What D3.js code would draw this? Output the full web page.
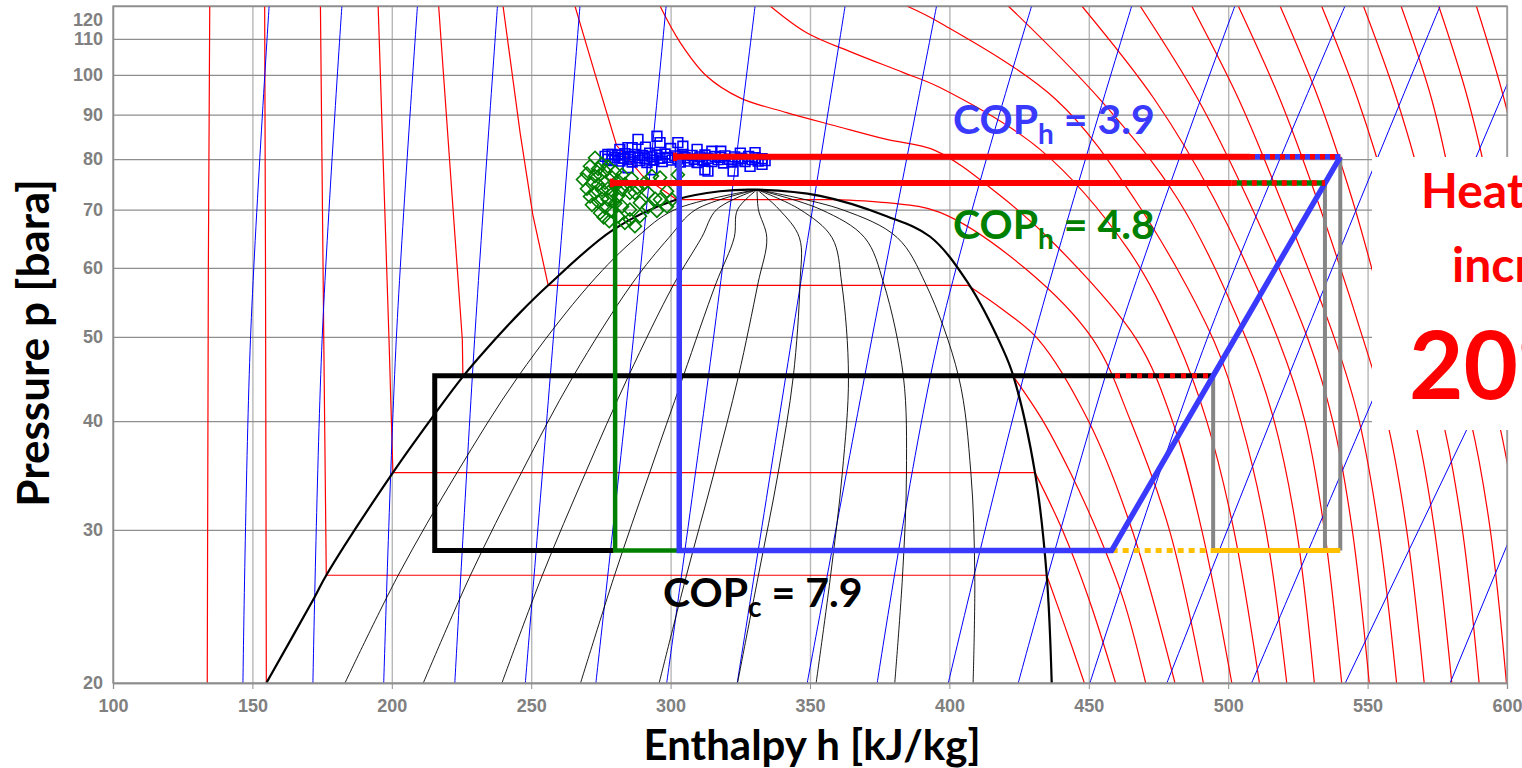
<!DOCTYPE html>
<html>
<head>
<meta charset="utf-8">
<script src="https://cdn.jsdelivr.net/npm/d3@7"></script>
<style>
    body { margin:0; background:#fff; }
    svg { display:block; font-family: Lato, "Open Sans", sans-serif; }
</style>
</head>
<body>
<div class="canvas"></div>
<script>
// AXIS TICKS
const pTicks = [20, 30, 40, 50, 60, 70, 80, 90, 100, 110, 120];
const hTicks = [100, 150, 200, 250, 300, 350, 400, 450, 500, 550, 600];

// SATURATION DOME [h, p]
const dome = [[155,20],[172.3,25.1],[176.5,26.6],[200.4,34.9],[214.8,40.5],[225.5,45],[236.9,49.6],[246,53.3],[256.1,57.3],[279.5,66.4],[302.2,71.9],[317.7,73.5],[331,73.8],[353.6,72.6],[377.5,68.8],[393,65.2],[406.6,57.7],[419.3,48.3],[423,45],[430.7,34.9],[434.9,26.6],[436.7,20]];

// VAPOUR QUALITY LINES 0.1 .. 0.9
const qualityLines = [
    [[183.2,20],[202.3,26.6],[223.4,34.9],[245.3,45],[271.1,57.5],[287.7,65],[301.5,70],[331,73.8]],
    [[211.3,20],[228.2,26.6],[246.5,34.9],[265,45],[286.1,57.5],[299.4,65],[309,70],[331,73.8]],
    [[239.5,20],[254,26.6],[269.5,34.9],[284.8,45],[301.2,57.5],[311.1,65],[316.5,70],[331,73.8]],
    [[267.7,20],[279.9,26.6],[292.5,34.9],[304.5,45],[316.2,57.5],[322.8,65],[324,70],[331,73.8]],
    [[295.9,20],[305.7,26.6],[315.6,34.9],[324.3,45],[331.3,57.5],[334.5,65],[331.5,70],[331,73.8]],
    [[324,20],[331.5,26.6],[338.6,34.9],[344,45],[346.4,57.5],[346.2,65],[339,70],[331,73.8]],
    [[352.2,20],[357.4,26.6],[361.6,34.9],[363.8,45],[361.4,57.5],[357.9,65],[346.5,70],[331,73.8]],
    [[380.4,20],[383.2,26.6],[384.6,34.9],[383.5,45],[376.5,57.5],[369.6,65],[354,70],[331,73.8]],
    [[408.5,20],[409.1,26.6],[407.7,34.9],[403.3,45],[391.5,57.5],[381.3,65],[361.5,70],[331,73.8]]
];

// ISOTHERMS (deg C): liquid part + two-phase step, then vapour / supercritical part
const isoTemps = [-30,-20,-10,0,10,20,30,40,50,60,70,80,90,100,110,120,130,140,150,160,170];
const isoLiquid = [
    [[134.7,120],[134.2,60],[133.8,20]],
    [[154.4,120],[154.7,60],[155,20]],
    [[174.4,120],[175.6,49.6],[176.5,26.6]],
    [[195.1,120],[199,49.6],[200.4,34.9]],
    [[216.8,120],[225.3,49.6],[225.5,45]],
    [[239.9,120],[246,85.9],[250.6,69],[256.1,57.3]],
    [[265.7,120],[273,100],[280.6,83],[290,76.5],[302.2,71.9]],
    [],[],[],[],[],[],[],[],[],[],[],[],[],[]
];
const isoVapour = [
    [],
    [],
    [[434.9,26.6],[441.5,23.2],[448.4,20]],
    [[430.7,34.9],[440.5,30],[450,25],[459.6,20]],
    [[423,45],[433.6,40],[443.2,35],[452.8,30],[462.3,25],[470.4,20]],
    [[406.6,57.3],[419.2,53.7],[432,49.6],[449.9,40],[465.5,30],[480.9,20]],
    [[358,71.9],[377.5,71.3],[396.6,69.5],[427.2,59.9],[451.6,49.6],[465,40],[478.9,30],[491.1,20]],
    [[296.2,120],[303.4,109],[312.9,99.7],[324.9,94.1],[341.6,90.5],[359.6,87.3],[377.5,84.3],[394.8,81.9],[417.4,73],[438.6,63.5],[467.2,49.6],[480,40],[490.5,30],[501.3,20]],
    [[335.7,120],[348.8,111.8],[365.5,106],[383.5,100.6],[396.6,96.7],[432.5,82.1],[464.1,63],[481.5,49.6],[492.3,40],[502,30],[511.2,20]],
    [[384.7,120],[396.6,114.8],[438.2,93.7],[466.5,71.9],[494.7,49.6],[504.5,40],[513.5,30],[521,20]],
    [[421.1,120],[454,93.7],[482,71.9],[506.6,49.6],[516.5,40],[524.5,30],[530.9,20]],
    [[447.5,120],[473.6,93.7],[495.1,71.9],[518,49.6],[527.5,40],[534.5,30],[540.7,20]],
    [[468.4,120],[489.2,93.7],[507.1,71.9],[528.7,49.6],[537.5,40],[544.5,30],[550.6,20]],
    [[486.9,120],[503.8,93.7],[518.8,71.9],[538.3,49.6],[547,40],[554,30],[560.4,20]],
    [[503.6,120],[518.6,93.7],[531.9,71.9],[548.5,49.6],[557,40],[564,30],[570.3,20]],
    [[518.6,120],[532.5,93.7],[544.5,71.9],[558.5,49.6],[567,40],[574,30],[580.2,20]],
    [[533.5,120],[546.5,93.7],[557.5,71.9],[568.5,49.6],[577,40],[584,30],[590,20]],
    [[548.5,120],[560.5,93.7],[570.5,71.9],[578.5,49.6],[587,40],[594,30],[599.8,20]],
    [[562,120],[573,93.7],[581,71.9],[589,49.6],[597,40],[604,30],[609.6,20]],
    [[575.5,120],[586,93.7],[594,71.9],[599,49.6],[607,40]],
    [[589,120],[599,93.7],[607,71.9]]
];

// ISENTROPES
const isentropes = [
    [[146.6,20],[149.3,49.6],[156,120]],
    [[171.7,20],[175,49.6],[182.1,120]],
    [[197.1,20],[201.6,49.6],[209.2,120]],
    [[222.6,20],[229.7,49.6],[237.9,120]],
    [[247.9,20],[257.9,49.6],[267.5,120]],
    [[273.2,20],[286.6,49.6],[298.4,120]],
    [[298.6,20],[315.3,49.6],[330.3,120]],
    [[323.9,20],[343.4,49.6],[362.6,120]],
    [[349,20],[372.1,49.6],[395.4,120]],
    [[374.1,20],[396,49.6],[429.5,120]],
    [[399.6,20],[430.1,49.6],[465.4,120]],
    [[424.7,20],[460,49.6],[502.4,120]],
    [[450.4,20],[492.3,49.6],[541.9,120]],
    [[478,20],[526.9,49.6],[576,120]],
    [[508.4,20],[561,49.6],[612,120]],
    [[542,20],[601,49.6]],
    [[579.6,20],[625,45]]
];

// MEASURED POINTS
const bluePoints = [[276.5,80.6],[277.5,80.0],[279,81.0],[279,79.7],[280,80.4],[281.1,80.9],[281.8,79.6],[283,80.2],[283.6,81.2],[284.7,79.9],[285.5,80.6],[286.2,79.4],[287,81.0],[288.3,80.3],[289,79.7],[290,80.8],[290.8,80.1],[291.5,79.3],[292.5,81.3],[293.3,80.5],[294,79.8],[295.1,80.9],[296.2,80.2],[297,79.5],[298,81.1],[299,80.4],[300.5,79.8],[301.5,80.7],[302.6,80.1],[303.5,79.4],[304.4,81.0],[305.2,80.3],[306.5,79.6],[307.7,80.8],[308.5,80.0],[309.5,79.3],[310.5,80.5],[311.5,79.8],[312.3,80.9],[313.4,80.2],[314.8,79.5],[316,80.6],[317,79.9],[317.7,80.4],[319,79.2],[319.5,80.7],[321,80.0],[322,79.4],[323,80.5],[324.1,79.8],[325.5,80.2],[326.7,79.5],[328,80.6],[329.2,79.9],[330.3,80.3],[331.4,79.6],[332.8,80.1],[333.9,79.7],
    [288.3,84.3],[295.1,85.0],[296.2,83.6],[302.6,83.6],[304.4,82.8],[309.5,82.1],[281.8,82.1],[284.7,82.5],[286.2,82.5],[277.5,81.0],[314.8,81.7],[330.3,81.4],[322.4,77.5],[312.3,77.8],[313.4,77.5],[293.3,77.8],[284.7,78.2],[328.5,78.5],[332.8,78.9],[318,81.7],[325,81.3],[300,82.3],[291,82.6]];
const greenPoints = [[268.6,75.8],[270,77.0],[270,74.0],[271.1,78.5],[271.1,72.5],[271.8,75.0],[271.8,70.9],[272.9,80.3],[272.9,76.5],[272.9,73.2],[274,78.0],[274,74.8],[274,71.5],[274.7,69.4],[274.7,76.8],[275.4,79.0],[275.4,73.8],[275.4,72.0],[276.5,77.5],[276.5,75.2],[276.5,70.4],[277.5,78.5],[277.5,74.0],[277.5,71.9],[279,76.2],[279,73.0],[279,69.8],[280.1,77.3],[280.1,74.5],[280.1,71.2],[281.1,75.6],[281.1,72.6],[281.1,68.8],[282.6,76.8],[282.6,73.8],[282.6,70.6],[283.6,74.9],[283.6,67.6],[285.4,73.2],[285.4,70.0],[285.4,68.2],[287.2,73.2],[287.2,67.0],[289,71.3],[289,68.8],[290.4,75.0],[291.9,73.2],[291.9,70.5],[293.3,76.5],[294.5,72.0],[295.1,69.8],[296.2,76.2],[296.2,71.9],[298.7,73.5],[298.7,70.6],[300.5,71.9],[302.6,76.8],[286,76.0],[288,74.2],[278,67.9],[276,68.6]];

// CYCLES
const blackCycle = [[279.5,28.4],[215.4,28.4],[215.4,45.1],[459.4,45.1]];
const blackDotted = [[459.4,45.1],[494.6,45.1]];
const greenCycle = [[303.1,28.4],[280.1,28.4],[280.1,75.1]];
const blueCycle = [[303.1,80.5],[303.1,28.4],[458.2,28.4],[540.2,80.5]];
const redTop = [[301.6,80.5],[507.8,80.5]];
const redTopDotted = [[507.8,80.5],[540.2,80.5]];
const redMid = [[278.9,75.1],[501.3,75.1]];
const redMidDotted = [[501.3,75.1],[534.7,75.1]];
const redTicks = [[[301.6,81.4],[301.6,79.6]],[[278.9,76.0],[278.9,74.3]]];
const greyLines = [[[494.6,45.1],[494.6,28.4]],[[534.7,75.1],[534.7,28.4]],[[540.2,80.5],[540.2,28.4]]];
const yellowDotted = [[458.2,28.4],[494.6,28.4]];
const yellowSolid = [[494.6,28.4],[540.2,28.4]];

// Dimensions
const margins = {top:6, right:15, bottom:85, left:113};
const width = 1522 - margins.left - margins.right;
const height = 768 - margins.top - margins.bottom;

const svg = d3.select(".canvas")
.append("svg")
.attr("width", 1522)
.attr("height", 768);

const canvas = svg.append("g")
.attr("transform", `translate(${margins.left},${margins.top})`);

// SCALES
const x = d3.scaleLinear().domain([100, 600]).range([0, width]);
const y = d3.scaleLog().domain([20, 120]).range([height, 0]);

const line = d3.line().x(d=>x(d[0])).y(d=>y(d[1]));
const smooth = d3.line().x(d=>x(d[0])).y(d=>y(d[1])).curve(d3.curveCatmullRom.alpha(0.5));

svg.append("defs").append("clipPath").attr("id","plot")
.append("rect").attr("width", width).attr("height", height);

// GRID
canvas.append("g")
.attr("transform", `translate(0,${height})`)
.call(d3.axisBottom(x).tickValues(hTicks).tickSize(-height).tickFormat(""))
.call(g=>g.select(".domain").remove())
.selectAll("line").attr("stroke","#b8b8b8").attr("stroke-width",1.4);

canvas.append("g")
.call(d3.axisLeft(y).tickValues(pTicks).tickSize(-width).tickFormat(""))
.call(g=>g.select(".domain").remove())
.selectAll("line").attr("stroke","#8e8e8e").attr("stroke-width",1.3);

const plot = canvas.append("g").attr("clip-path","url(#plot)");

// ISOTHERMS
isoTemps.forEach((t,i)=>{
    const liq = isoLiquid[i];
    const vap = isoVapour[i];
    if(liq.length){
        const pts = vap.length ? liq.concat([vap[0]]) : liq;
        plot.append("path").attr("d", line(pts))
        .attr("fill","none").attr("stroke","#ff0000").attr("stroke-width",1.2);
    }
    if(vap.length){
        plot.append("path").attr("d", smooth(vap))
        .attr("fill","none").attr("stroke","#ff0000").attr("stroke-width",1.2);
    }
});

// ISENTROPES
plot.selectAll(".isen")
.data(isentropes)
.enter()
.append("path")
.attr("class","isen")
.attr("d", d=>smooth(d))
.attr("fill","none").attr("stroke","#0000ff").attr("stroke-width",1);

// QUALITY LINES + DOME
plot.selectAll(".qual")
.data(qualityLines)
.enter()
.append("path")
.attr("class","qual")
.attr("d", d=>smooth(d))
.attr("fill","none").attr("stroke","#000").attr("stroke-width",0.9);

plot.append("path").attr("d", smooth(dome))
.attr("fill","none").attr("stroke","#000").attr("stroke-width",2.2);

// SCATTER
plot.selectAll(".sq")
.data(bluePoints)
.enter()
.append("path")
.attr("class","sq")
.attr("d", d3.symbol().type(d3.symbolSquare).size(95))
.attr("transform", d=>`translate(${x(d[0])},${y(d[1])})`)
.attr("fill","none").attr("stroke","#0000ff").attr("stroke-width",1.6);

plot.selectAll(".dia")
.data(greenPoints)
.enter()
.append("path")
.attr("class","dia")
.attr("d", d3.symbol().type(d3.symbolSquare).size(85))
.attr("transform", d=>`translate(${x(d[0])},${y(d[1])}) rotate(45)`)
.attr("fill","none").attr("stroke","#008000").attr("stroke-width",1.6);

// CYCLES
const drawLine = (pts, color, w, dash) => {
    const p = plot.append("path").attr("d", line(pts))
    .attr("fill","none").attr("stroke", color).attr("stroke-width", w)
    .attr("stroke-linejoin","miter");
    if(dash) p.attr("stroke-dasharray", dash);
    return p;
};

greyLines.forEach(g=>drawLine(g, "#868686", 4));
drawLine(yellowDotted, "#ffc000", 5, "6,5");
drawLine(yellowSolid, "#ffc000", 5);
drawLine(blackCycle, "#000", 5);
drawLine(blackDotted, "#000", 5);
drawLine(blackDotted, "#ff0000", 5, "5,6");
drawLine(greenCycle, "#008000", 4.5);
drawLine(blueCycle, "#3a3aff", 5.5);
drawLine(redTopDotted, "#3a3aff", 5.5);
drawLine(redTopDotted, "#ff0000", 5.5, "5,5");
drawLine(redMidDotted, "#008000", 5.5);
drawLine(redMidDotted, "#ff0000", 5.5, "5,5");
drawLine(redTop, "#ff0000", 6);
drawLine(redMid, "#ff0000", 6);
redTicks.forEach(t=>drawLine(t, "#ff0000", 4));

// AXES
const xAxis = canvas.append("g")
.attr("transform", `translate(0,${height})`)
.call(d3.axisBottom(x).tickValues(hTicks).tickSize(6).tickPadding(10).tickFormat(d3.format("d")));
xAxis.select(".domain").attr("stroke","#8e8e8e").attr("stroke-width",1.3);
xAxis.selectAll("line").attr("stroke","#8e8e8e");
xAxis.selectAll("text").attr("font-size",18).attr("font-weight","bold").attr("fill","#808080");

const yAxis = canvas.append("g")
.call(d3.axisLeft(y).tickValues(pTicks).tickSize(0).tickPadding(10).tickFormat(d3.format("d")));
yAxis.select(".domain").attr("stroke","#8e8e8e").attr("stroke-width",1.3);
yAxis.selectAll("text").attr("font-size",18).attr("font-weight","bold").attr("fill","#808080");
yAxis.selectAll(".tick").filter(d=>d===120).select("text").attr("transform","translate(0,14)");

canvas.append("rect")
.attr("width", width).attr("height", height)
.attr("fill","none").attr("stroke","#8e8e8e").attr("stroke-width",1.3);

// TITLES
svg.append("text")
.attr("transform","translate(49,343) rotate(-90)")
.attr("text-anchor","middle")
.attr("font-size",44).attr("font-weight","bold")
.text("Pressure p [bara]");

svg.append("text")
.attr("x", 812).attr("y", 760)
.attr("text-anchor","middle")
.attr("font-size",42).attr("font-weight","bold")
.text("Enthalpy h [kJ/kg]");

// COP LABELS
const cop = (h, p, sub, val, color) => {
    const t = canvas.append("text")
    .attr("x", x(h)).attr("y", y(p))
    .attr("font-size",41).attr("font-weight","bold").attr("fill", color);
    t.append("tspan").text("COP");
    t.append("tspan").attr("dy",10).attr("font-size",28).text(sub);
    t.append("tspan").attr("dy",-10).text(" = " + val);
};
cop(401.3, 85.5, "h", "3.9", "#3a3aff");
cop(401.3, 64.7, "h", "4.8", "#008000");
cop(297.3, 24.46, "c", "7.9", "#000");

// RIGHT NOTE BOX
svg.append("rect")
.attr("x",1372).attr("y",157).attr("width",160).attr("height",273)
.attr("fill","#fff");

svg.append("text").attr("x",1421).attr("y",208)
.attr("font-size",48).attr("font-weight","bold").attr("fill","#ff0000")
.text("Heating");
svg.append("text").attr("x",1452).attr("y",282)
.attr("font-size",48).attr("font-weight","bold").attr("fill","#ff0000")
.text("increase");
svg.append("text").attr("x",1409).attr("y",399)
.attr("font-size",94).attr("font-weight","bold").attr("fill","#ff0000")
.text("20%");
</script>
</body>
</html>
